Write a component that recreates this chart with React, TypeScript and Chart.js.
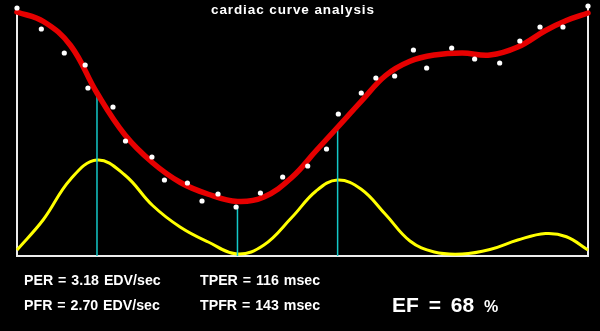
import React, { useEffect, useRef } from "react";
import { Chart, registerables } from "chart.js";

Chart.register(...registerables);

// time axis in msec, value axis in relative counts
const timeMax = 821;
const valueMax = 100;

// fitted volume curve (red)
const volumeTimes = [0, 38, 77, 115, 155, 195, 235, 275, 317, 355, 395, 430, 461, 495, 530, 565, 600, 640, 680, 720, 760, 790, 821];
const volumeValues = [97.6, 93.8, 84.2, 65.2, 48.5, 37.3, 29.4, 24.7, 21.8, 23.6, 31.4, 42.1, 51.5, 61.9, 72.2, 77.9, 80.4, 81.2, 80.4, 83.6, 90.2, 94.2, 97.2];

// raw frame samples (white dots)
const sampleTimes = [0, 35, 68, 98, 102, 138, 156, 194, 212, 245, 266, 289, 315, 350, 382, 418, 445, 462, 495, 516, 543, 570, 589, 625, 658, 694, 723, 752, 785, 821];
const sampleValues = [99.2, 90.8, 81.2, 76.4, 67.2, 59.6, 46.0, 39.6, 30.4, 29.2, 22.0, 24.8, 19.6, 25.2, 31.6, 36.0, 42.8, 56.8, 65.2, 71.2, 72.0, 82.4, 75.2, 83.2, 78.8, 77.2, 86.0, 91.6, 91.6, 100];

// rate curve (yellow)
const rateTimes = [0, 38, 77, 115, 155, 195, 235, 275, 317, 355, 395, 430, 461, 495, 530, 565, 600, 640, 680, 720, 760, 790, 821];
const rateValues = [2.4, 14.6, 30.7, 38.4, 32.4, 20.2, 11.5, 5.6, 0.8, 4.4, 15.4, 26.0, 30.4, 26.7, 16.6, 6.0, 1.6, 0.8, 2.6, 6.4, 9.0, 7.7, 2.4];

// markers: peak ejection, end systole, peak filling (cyan)
const markerTimes = [115, 317, 461];
const markerValues = [65.2, 20.4, 51.5];

const titleText = "cardiac curve analysis";
const statLines = [
  ["PER = 3.18 EDV/sec", "TPER = 116 msec"],
  ["PFR = 2.70 EDV/sec", "TPFR = 143 msec"],
];
const efText = "EF = 68";

export default function App() {
  const canvasRef = useRef<HTMLCanvasElement | null>(null);

  useEffect(() => {
    const canvas = canvasRef.current;
    if (!canvas) return;

    const boxPlugin = {
      id: "boxLines",
      beforeDatasetsDraw(chart: any) {
        const { ctx, chartArea } = chart;
        const { left, right, top, bottom } = chartArea;
        ctx.save();
        ctx.strokeStyle = "#ececec";
        ctx.lineWidth = 2;
        ctx.beginPath();
        ctx.moveTo(left, top);
        ctx.lineTo(left, bottom);
        ctx.lineTo(right, bottom);
        ctx.lineTo(right, top);
        ctx.stroke();
        ctx.restore();
      },
    };

    const markerSets = markerTimes.map((t, i) => ({
      type: "line" as const,
      data: [
        { x: t, y: 0 },
        { x: t, y: markerValues[i] },
      ],
      borderColor: "#14c8c8",
      borderWidth: 1.5,
      pointRadius: 0,
      tension: 0,
      clip: false as any,
    }));

    const chart = new Chart(canvas, {
      type: "line",
      data: {
        datasets: [
          {
            type: "scatter" as any,
            data: sampleTimes.map((t, i) => ({ x: t, y: sampleValues[i] })),
            showLine: false,
            pointRadius: 2.6,
            pointBackgroundColor: "#ffffff",
            pointBorderWidth: 0,
            clip: false as any,
          },
          {
            data: volumeTimes.map((t, i) => ({ x: t, y: volumeValues[i] })),
            borderColor: "#e60000",
            borderWidth: 5.5,
            pointRadius: 0,
            tension: 0.4,
            borderCapStyle: "round",
            borderJoinStyle: "round",
            clip: false as any,
          },
          ...markerSets,
          {
            data: rateTimes.map((t, i) => ({ x: t, y: rateValues[i] })),
            borderColor: "#ffff00",
            borderWidth: 3,
            pointRadius: 0,
            tension: 0.4,
            clip: false as any,
          },
        ] as any,
      },
      options: {
        responsive: false,
        animation: false,
        layout: { padding: { left: 17, right: 12, top: 6, bottom: 75 } },
        plugins: {
          legend: { display: false },
          tooltip: { enabled: false },
          title: { display: false },
        },
        scales: {
          x: { type: "linear", min: 0, max: timeMax, display: false },
          y: { type: "linear", min: 0, max: valueMax, display: false },
        },
      },
      plugins: [boxPlugin],
    });

    return () => chart.destroy();
  }, []);

  const textBase: React.CSSProperties = {
    position: "absolute",
    color: "#ffffff",
    fontFamily: "'Liberation Sans', Arial, sans-serif",
    fontWeight: "bold",
    whiteSpace: "nowrap",
    margin: 0,
  };

  return (
    <div
      style={{
        position: "absolute",
        left: 0,
        top: 0,
        width: 600,
        height: 331,
        background: "#000000",
        overflow: "hidden",
      }}
    >
      <canvas ref={canvasRef} width={600} height={331} style={{ display: "block" }} />
      <div
        style={{
          ...textBase,
          left: 211,
          top: 3,
          fontSize: 13.5,
          lineHeight: "14px",
          letterSpacing: "0.9px",
        }}
      >
        {titleText}
      </div>
      {statLines.map((row, r) => (
        <React.Fragment key={r}>
          <div style={{ ...textBase, left: 24, top: 273 + r * 25, fontSize: 14.2, lineHeight: "15px", wordSpacing: "1px" }}>
            {row[0]}
          </div>
          <div style={{ ...textBase, left: 200, top: 273 + r * 25, fontSize: 14.2, lineHeight: "15px", wordSpacing: "1px" }}>
            {row[1]}
          </div>
        </React.Fragment>
      ))}
      <div style={{ ...textBase, left: 392, top: 294, fontSize: 21, lineHeight: "21px", wordSpacing: "4px" }}>
        {efText} <span style={{ fontSize: 16 }}>%</span>
      </div>
    </div>
  );
}
